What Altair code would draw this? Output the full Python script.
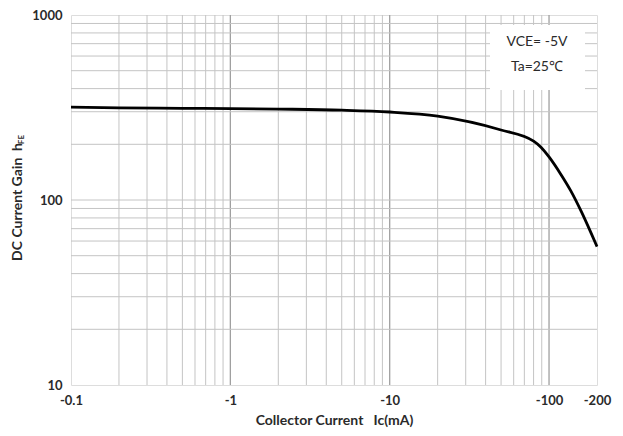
import altair as alt
import pandas as pd

# Collector current (magnitude, mA) and DC current gain hFE
ic = [0.1, 0.2, 0.5, 1, 2, 5, 10, 20, 50, 80, 89, 100, 119, 137, 159, 184, 200]
hfe = [318, 315, 313, 312, 310, 306, 299, 284, 239, 208, 193, 171, 137, 112, 87, 66, 56]

x_ticks = [0.1, 1, 10, 100, 200]
y_ticks = [10, 100, 1000]
x_grid = [0.2, 0.3, 0.4, 0.5, 0.6, 0.7, 0.8, 0.9,
          2, 3, 4, 5, 6, 7, 8, 9,
          20, 30, 40, 50, 60, 70, 80, 90]
x_major = [1, 10, 100]
y_grid = [20, 30, 40, 50, 60, 70, 80, 90,
          100, 200, 300, 400, 500, 600, 700, 800, 900]

FONT = "Lato"
NB = "\u00a0"

xscale = alt.Scale(type="log", domain=[0.1, 200])
yscale = alt.Scale(type="log", domain=[10, 1000])

x_axis = alt.Axis(values=x_ticks, labelExpr="'-' + datum.value",
                  title="Collector Current" + NB * 3 + "Ic(mA)", grid=False, ticks=False,
                  domain=False, labelPadding=9, titlePadding=6,
                  labelFont=FONT, labelFontSize=13, labelFontWeight="bold",
                  labelColor="#2a2a2a", titleFont=FONT, titleFontSize=14,
                  titleFontWeight="bold", titleColor="#2a2a2a", labelFlush=False)
y_axis = alt.Axis(values=y_ticks, format="d", title=None, grid=False, ticks=False,
                  domain=False, labelPadding=9, labelFont=FONT, labelFontSize=13,
                  labelFontWeight="bold", labelColor="#2a2a2a", labelFlush=False)

X = lambda: alt.X("x:Q", scale=xscale, axis=x_axis)
Y = lambda: alt.Y("y:Q", scale=yscale, axis=y_axis)

vgrid = alt.Chart(pd.DataFrame({"x": x_grid})).mark_rule(
    color="#c4c4c4", strokeWidth=1).encode(x=X())
vmajor = alt.Chart(pd.DataFrame({"x": x_major})).mark_rule(
    color="#a0a0a0", strokeWidth=1.3).encode(x=X())
hgrid = alt.Chart(pd.DataFrame({"y": y_grid})).mark_rule(
    color="#c4c4c4", strokeWidth=1).encode(y=Y())

box = alt.Chart(pd.DataFrame({"a": [0]})).mark_rect(fill="white").encode(
    x=alt.value(419), x2=alt.value(514), y=alt.value(10), y2=alt.value(75))
note1 = alt.Chart(pd.DataFrame({"a": [0]})).mark_text(
    text="VCE=" + NB + "-5V", font=FONT, fontSize=14, color="#2a2a2a").encode(
    x=alt.value(466), y=alt.value(27))
note2 = alt.Chart(pd.DataFrame({"a": [0]})).mark_text(
    text="Ta=25℃", font=FONT, fontSize=14, color="#2a2a2a").encode(
    x=alt.value(466), y=alt.value(52))

line = alt.Chart(pd.DataFrame({"x": ic, "y": hfe})).mark_line(
    color="black", strokeWidth=2.8, interpolate="monotone").encode(x=X(), y=Y())

ytitle = alt.Chart(pd.DataFrame({"a": [0]})).mark_text(
    text="DC Current Gain" + NB * 2 + "h", font=FONT, fontSize=14, fontWeight="bold",
    color="#2a2a2a", angle=270, align="right", baseline="middle").encode(
    x=alt.value(-53), y=alt.value(128))
ysub = alt.Chart(pd.DataFrame({"a": [0]})).mark_text(
    text="FE", font=FONT, fontSize=8, fontWeight="bold",
    color="#2a2a2a", angle=270, align="right", baseline="middle").encode(
    x=alt.value(-49), y=alt.value(120))

chart = alt.layer(vgrid, vmajor, hgrid, box, note1, note2, line, ytitle, ysub).properties(
    width=526, height=370,
    autosize=alt.AutoSizeParams(type="none"),
    padding={"left": 63, "top": 7, "right": 18, "bottom": 43},
).configure_view(stroke="#a0a0a0", strokeWidth=1.3).configure(background="white")

chart.save("out.html", embed_options={"renderer": "svg", "actions": False})
